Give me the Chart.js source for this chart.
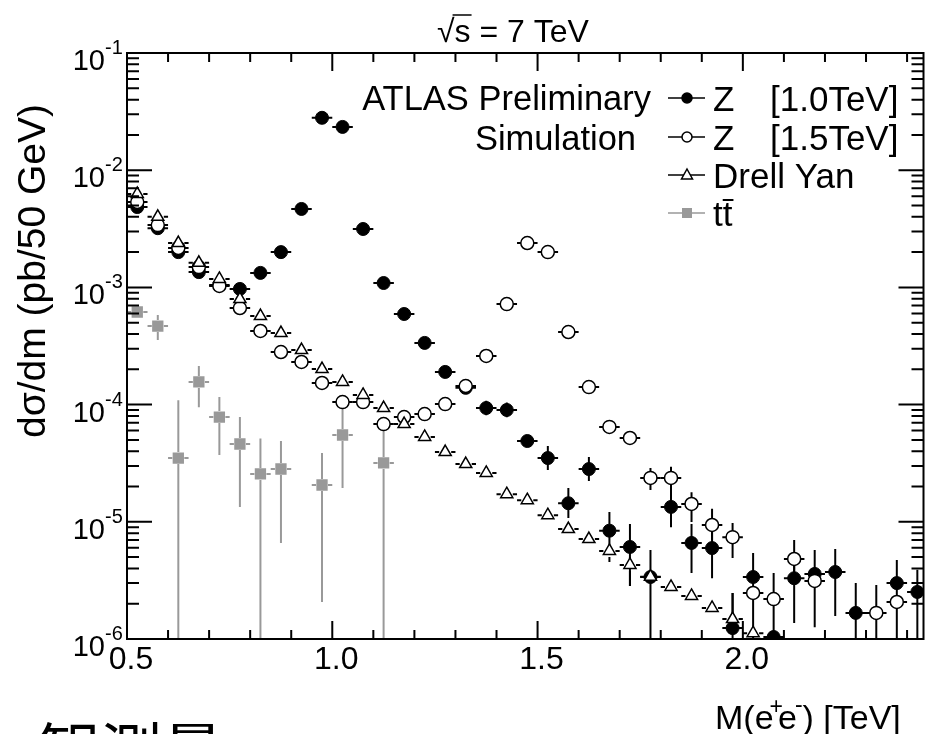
<!DOCTYPE html>
<html>
<head>
<meta charset="utf-8">
<script src="https://cdn.jsdelivr.net/npm/chart.js@4.4.0/dist/chart.umd.min.js"></script>
<style>
  html, body { margin: 0; padding: 0; background: #fff; }
</style>
</head>
<body>
<canvas id="massChart" width="932" height="734"></canvas>
<script>
// bin centres, 50 GeV bins
const massBins = [0.525, 0.575, 0.625, 0.675, 0.725, 0.775, 0.825, 0.875, 0.925, 0.975,
    1.025, 1.075, 1.125, 1.175, 1.225, 1.275, 1.325, 1.375, 1.425, 1.475,
    1.525, 1.575, 1.625, 1.675, 1.725, 1.775, 1.825, 1.875, 1.925, 1.975,
    2.025, 2.075, 2.125, 2.175, 2.225, 2.275, 2.325, 2.375, 2.425];
const halfBin = 0.025;

// Z' 1.0 TeV
const zp1000 = [4.85e-3, 3.2e-3, 2.0e-3, 1.35e-3, 1.05e-3, 9.7e-4, 1.33e-3, 2.0e-3, 4.67e-3, 2.8e-2,
    2.34e-2, 3.15e-3, 1.09e-3, 5.93e-4, 3.36e-4, 1.9e-4, 1.39e-4, 9.35e-5, 9.0e-5, 4.89e-5,
    3.5e-5, 1.44e-5, 2.82e-5, 8.4e-6, 6.1e-6, 3.38e-6, 1.34e-5, 6.6e-6, 5.97e-6, 1.24e-6,
    3.38e-6, 1.04e-6, 3.3e-6, 3.59e-6, 3.73e-6, 1.67e-6, null, 3.0e-6, 2.52e-6];
const zp1000Hi = [null, null, null, null, null, null, null, null, null, null,
    null, null, null, null, null, null, null, 1.08e-4, 1.04e-4, 5.5e-5,
    4.43e-5, 1.94e-5, 3.57e-5, 1.21e-5, 9.6e-6, 5.74e-6, 1.76e-5, 9.6e-6, 8.5e-6, 2.47e-6,
    5.42e-6, null, 4.7e-6, 5.74e-6, 5.86e-6, 3.0e-6, null, 4.72e-6, 3.9e-6];
const zp1000Lo = [null, null, null, null, null, null, null, null, null, null,
    null, null, null, null, null, null, null, 8.1e-5, 7.8e-5, 4.35e-5,
    2.77e-5, 1.08e-5, 2.23e-5, 5.97e-6, 2.83e-6, 0, 9.0e-6, 3.66e-6, 3.3e-6, 0,
    0, null, 1.37e-6, 1.26e-6, 1.57e-6, 0, null, 0, 0];

// Z' 1.5 TeV
const zp1500 = [5.35e-3, 3.4e-3, 2.17e-3, 1.49e-3, 1.03e-3, 6.67e-4, 4.25e-4, 2.81e-4, 2.31e-4, 1.53e-4,
    1.05e-4, 1.05e-4, 6.82e-5, 7.83e-5, 8.3e-5, 1.01e-4, 1.44e-4, 2.6e-4, 7.2e-4, 2.39e-3,
    2.0e-3, 4.16e-4, 1.41e-4, 6.45e-5, 5.19e-5, 2.37e-5, 2.37e-5, 1.42e-5, 9.4e-6, 7.4e-6,
    2.47e-6, 2.19e-6, 4.82e-6, 3.13e-6, null, null, 1.67e-6, 2.07e-6, null];
const zp1500Hi = [null, null, null, null, null, null, null, null, null, null,
    null, null, null, null, null, null, null, null, null, null,
    null, null, null, null, null, 2.88e-5, 2.95e-5, 1.79e-5, 1.29e-5, 9.77e-6,
    null, 3.66e-6, 7.0e-6, null, null, null, 2.89e-6, null, null];
const zp1500Lo = [null, null, null, null, null, null, null, null, null, null,
    null, null, null, null, null, null, null, null, null, null,
    null, null, null, null, null, 1.87e-5, 1.76e-5, 9.95e-6, 7.0e-6, 4.91e-6,
    null, 0, 3.2e-6, null, null, null, 0, null, null];

// Drell-Yan
const drellYan = [6.27e-3, 4.0e-3, 2.39e-3, 1.62e-3, 1.18e-3, 7.96e-4, 5.7e-4, 4.08e-4, 2.92e-4, 2.01e-4,
    1.56e-4, 1.21e-4, 9.35e-5, 6.83e-5, 5.3e-5, 3.94e-5, 3.11e-5, 2.61e-5, 1.72e-5, 1.53e-5,
    1.14e-5, 8.68e-6, 7.13e-6, 5.64e-6, 4.28e-6, 3.4e-6, 2.78e-6, 2.33e-6, 1.84e-6, 1.48e-6,
    1.12e-6];
const drellYanHi = [null, null, null, null, null, null, null, null, null, null,
    null, null, null, null, null, null, null, null, null, null,
    null, null, null, 6.34e-6, 5.0e-6, null, null, null, null, 2.47e-6, null];
const drellYanLo = [null, null, null, null, null, null, null, null, null, null,
    null, null, null, null, null, null, null, null, null, null,
    null, null, null, 4.54e-6, 2.83e-6, null, null, null, null, 1.26e-6, null];

// ttbar
const ttbar = [6.17e-4, 4.68e-4, 3.5e-5, 1.56e-4, 7.83e-5, 4.61e-5, 2.56e-5, 2.82e-5, null, 2.06e-5,
    5.5e-5, null, 3.18e-5];
const ttbarHi = [null, 5.82e-4, 1.09e-4, 2.14e-4, 1.16e-4, 7.83e-5, 5.13e-5, 4.9e-5, null, 3.86e-5,
    1.03e-4, null, 6.07e-5];
const ttbarLo = [null, 3.56e-4, 0, 9.5e-5, 3.72e-5, 1.34e-5, 0, 6.6e-6, null, 2.07e-6,
    1.94e-5, null, 0];

const xTickValues = [0.5, 1.0, 1.5, 2.0];
const xTickLabels = ['0.5', '1.0', '1.5', '2.0'];
const yTickValues = [1e-1, 1e-2, 1e-3, 1e-4, 1e-5, 1e-6];
const yTickExps = ['-1', '-2', '-3', '-4', '-5', '-6'];

const legendNames = ['Z', 'Z', 'Drell Yan', 'tt'];
const legendTags = ['[1.0TeV]', '[1.5TeV]', '', ''];

const FONT = '"Liberation Sans", Arial, Helvetica, sans-serif';
const GREY = 'rgb(153, 153, 153)';

const toPoints = (values) => {
    let points = [];
    values.forEach((v, i) => {
        if (v != null) points.push({ x: massBins[i], y: v });
    });
    return points;
};

const errorSets = [
    { values: ttbar, hi: ttbarHi, lo: ttbarLo, color: GREY, gap: 6 },
    { values: drellYan, hi: drellYanHi, lo: drellYanLo, color: '#000', gap: 6 },
    { values: zp1500, hi: zp1500Hi, lo: zp1500Lo, color: '#000', gap: 6 },
    { values: zp1000, hi: zp1000Hi, lo: zp1000Lo, color: '#000', gap: 6 }
];

// error bar block
const errorBars = {
    id: 'errorBars',
    beforeDatasetsDraw(chart) {
        const { ctx, chartArea, scales: { x, y } } = chart;
        ctx.save();
        ctx.beginPath();
        ctx.rect(chartArea.left, chartArea.top, chartArea.right - chartArea.left, chartArea.bottom - chartArea.top);
        ctx.clip();
        ctx.lineWidth = 2;
        errorSets.forEach(set => {
            ctx.strokeStyle = set.color;
            set.values.forEach((v, i) => {
                if (v == null) return;
                const px = x.getPixelForValue(massBins[i]);
                const py = y.getPixelForValue(v);
                const left = x.getPixelForValue(massBins[i] - halfBin);
                const right = x.getPixelForValue(massBins[i] + halfBin);
                ctx.beginPath();
                ctx.moveTo(left, py);
                ctx.lineTo(px - set.gap, py);
                ctx.moveTo(px + set.gap, py);
                ctx.lineTo(right, py);
                const hi = set.hi[i];
                const lo = set.lo[i];
                if (hi != null) {
                    const top = y.getPixelForValue(hi);
                    const bottom = lo > y.min ? y.getPixelForValue(lo) : chartArea.bottom + 2;
                    if (top < py - set.gap) {
                        ctx.moveTo(px, top);
                        ctx.lineTo(px, py - set.gap);
                    }
                    if (bottom > py + set.gap) {
                        ctx.moveTo(px, py + set.gap);
                        ctx.lineTo(px, bottom);
                    }
                }
                ctx.stroke();
            });
        });
        ctx.restore();
    }
};

const drawMarker = (ctx, style, x, y) => {
    ctx.beginPath();
    if (style == 'filled' || style == 'open') {
        ctx.arc(x, y, 5, 0, Math.PI * 2);
        ctx.fillStyle = style == 'filled' ? '#000' : '#fff';
        ctx.fill();
        ctx.lineWidth = 1.5;
        ctx.strokeStyle = '#000';
        ctx.stroke();
    } else if (style == 'triangle') {
        ctx.moveTo(x, y - 6);
        ctx.lineTo(x + 5.5, y + 4);
        ctx.lineTo(x - 5.5, y + 4);
        ctx.closePath();
        ctx.fillStyle = '#fff';
        ctx.fill();
        ctx.lineWidth = 1.5;
        ctx.strokeStyle = '#000';
        ctx.stroke();
    } else {
        ctx.fillStyle = GREY;
        ctx.fillRect(x - 5, y - 5, 10, 10);
    }
};

// frame, ticks and text block
const decorations = {
    id: 'decorations',
    afterDraw(chart) {
        const { ctx, chartArea: { left, top, right, bottom }, scales: { x, y } } = chart;
        ctx.save();
        ctx.strokeStyle = '#000';
        ctx.lineWidth = 2;
        ctx.strokeRect(left, top, right - left, bottom - top);

        ctx.beginPath();
        for (let k = 5; k <= 24; k++) {
            const px = x.getPixelForValue(k / 10);
            const len = k % 5 == 0 ? 18 : 9;
            ctx.moveTo(px, bottom);
            ctx.lineTo(px, bottom - len);
            ctx.moveTo(px, top);
            ctx.lineTo(px, top + len);
        }
        for (let e = -6; e <= -1; e++) {
            for (let m = 1; m <= 9; m++) {
                const v = m * Math.pow(10, e);
                if (v > 0.1000001) break;
                const py = y.getPixelForValue(v);
                const len = m == 1 ? 25 : 12;
                ctx.moveTo(left, py);
                ctx.lineTo(left + len, py);
                ctx.moveTo(right, py);
                ctx.lineTo(right - len, py);
            }
        }
        ctx.stroke();

        ctx.fillStyle = '#000';
        // x tick labels
        ctx.font = '32px ' + FONT;
        ctx.textAlign = 'center';
        ctx.textBaseline = 'alphabetic';
        xTickValues.forEach((v, i) => {
            ctx.fillText(xTickLabels[i], x.getPixelForValue(v) + 4, 669);
        });

        // y tick labels
        yTickValues.forEach((v, i) => {
            const py = y.getPixelForValue(v);
            ctx.font = '29px ' + FONT;
            ctx.textAlign = 'right';
            ctx.fillText('10', 105, py + 17);
            ctx.font = '20px ' + FONT;
            ctx.textAlign = 'left';
            ctx.fillText(yTickExps[i], 105, py + 1);
        });

        // y axis title
        ctx.save();
        ctx.translate(45, 271);
        ctx.rotate(-Math.PI / 2);
        ctx.font = '39px ' + FONT;
        ctx.textAlign = 'center';
        ctx.fillText('d\u03C3/dm (pb/50 GeV)', 0, 0);
        ctx.restore();

        // x axis title
        let cx = 715;
        const base = 729;
        const piece = (txt, size, dy) => {
            ctx.font = size + 'px ' + FONT;
            ctx.textAlign = 'left';
            ctx.fillText(txt, cx, base + dy);
            cx += ctx.measureText(txt).width;
        };
        piece('M(e', 34, 0);
        cx -= 4;
        piece('+', 23, -15);
        cx -= 5;
        piece('e', 34, 0);
        cx -= 2;
        piece('-', 23, -17);
        piece(') [TeV]', 34, 0);

        // energy label
        ctx.font = '32px ' + FONT;
        ctx.textAlign = 'left';
        let tx = 437;
        ctx.fillText('\u221A', tx, 42);
        tx += ctx.measureText('\u221A').width;
        const sw = ctx.measureText('s').width;
        ctx.fillText('s', tx, 42);
        ctx.beginPath();
        ctx.lineWidth = 1.5;
        ctx.moveTo(tx - 2, 15);
        ctx.lineTo(tx + sw + 1, 15);
        ctx.stroke();
        ctx.fillText(' = 7 TeV', tx + sw, 42);

        // ATLAS label
        ctx.font = '34.5px ' + FONT;
        ctx.textAlign = 'right';
        ctx.fillText('ATLAS Preliminary', 651, 110);
        ctx.fillText('Simulation', 636, 150);

        // legend
        const styles = ['filled', 'open', 'triangle', 'square'];
        const rows = [98, 137, 175, 213];
        styles.forEach((s, i) => {
            ctx.beginPath();
            ctx.strokeStyle = s == 'square' ? GREY : '#000';
            ctx.lineWidth = 1.5;
            ctx.moveTo(668, rows[i]);
            ctx.lineTo(705, rows[i]);
            ctx.stroke();
            drawMarker(ctx, s, 687, rows[i]);
            ctx.fillStyle = '#000';
            ctx.font = '35px ' + FONT;
            ctx.textAlign = 'left';
            ctx.fillText(legendNames[i], 713, rows[i] + 13);
            if (legendTags[i]) ctx.fillText(legendTags[i], 770, rows[i] + 13);
        });
        // bar over the second t
        const tw = ctx.measureText('t').width;
        ctx.beginPath();
        ctx.strokeStyle = '#000';
        ctx.lineWidth = 2;
        ctx.moveTo(713 + tw, 200);
        ctx.lineTo(713 + 2 * tw + 1, 200);
        ctx.stroke();

        // caption cut by the lower edge
        ctx.font = '62px "Noto Sans CJK JP", sans-serif';
        ctx.textAlign = 'left';
        ctx.fillText('観測量', 38, 775);
        ctx.restore();
    }
};

const config = {
    type: 'scatter',
    data: {
        datasets: [
            {
                label: 'tt',
                data: toPoints(ttbar),
                pointStyle: 'rect',
                pointRadius: 8,
                backgroundColor: GREY,
                borderColor: GREY,
                borderWidth: 0
            },
            {
                label: 'Drell Yan',
                data: toPoints(drellYan),
                pointStyle: 'triangle',
                pointRadius: 7,
                backgroundColor: '#fff',
                borderColor: '#000',
                borderWidth: 1.5
            },
            {
                label: 'Z [1.5TeV]',
                data: toPoints(zp1500),
                pointStyle: 'circle',
                pointRadius: 6.5,
                backgroundColor: '#fff',
                borderColor: '#000',
                borderWidth: 1.5
            },
            {
                label: 'Z [1.0TeV]',
                data: toPoints(zp1000),
                pointStyle: 'circle',
                pointRadius: 6.5,
                backgroundColor: '#000',
                borderColor: '#000',
                borderWidth: 1
            }
        ]
    },
    options: {
        responsive: false,
        animation: false,
        events: [],
        layout: {
            padding: { left: 127, top: 53, right: 6, bottom: 95 }
        },
        scales: {
            x: {
                type: 'linear',
                min: 0.5,
                max: 2.44,
                display: false
            },
            y: {
                type: 'logarithmic',
                min: 1e-6,
                max: 1e-1,
                display: false
            }
        },
        plugins: {
            legend: { display: false },
            tooltip: { enabled: false }
        }
    },
    plugins: [errorBars, decorations]
};

const massChart = new Chart(document.getElementById('massChart'), config);
</script>
</body>
</html>
